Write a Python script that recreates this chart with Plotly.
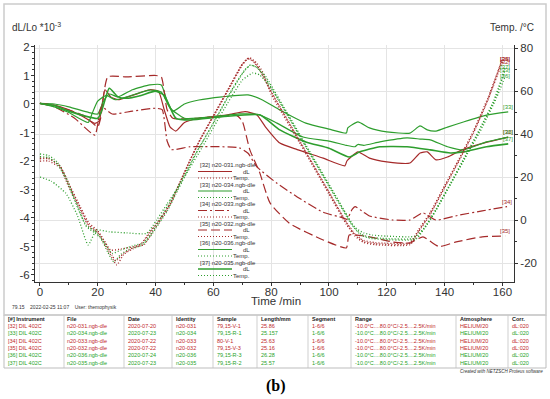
import plotly.graph_objects as go

# ---------------- data ----------------
RED = "#a52a2a"
GREEN = "#2e9e2e"
RED_T = "#c0282a"
GREEN_T = "#27a327"

# dL/Lo *10^-3 curves (time in min)
d32_t = [0,5,10,15,19,20.5,22.5,24.5,27,32,38,41,43,45,47,50,55,65,71,75,78,83,89,98,105.5,106.2,110,114,120,128,131.5,134,137,141,146,155,162]
d32_v = [0.02,-0.05,-0.2,-0.45,-0.68,-0.6,0.5,0.25,0.15,0.3,0.5,0.45,-0.2,-0.8,-0.95,-0.65,-0.5,-0.38,-0.27,-0.38,-0.8,-1.37,-1.6,-1.9,-2.17,-2.0,-1.68,-1.9,-2.03,-2.07,-1.72,-1.68,-1.96,-1.86,-1.61,-1.33,-1.16]

d33_t = [0,5,10,17,20,22,24,27,32,38,42,44,46,50,55,63,72,77,83,92,100,106,106.5,110,114,120,128,131.5,134,137,141,146.5,154.5,162]
d33_v = [0.02,0,-0.1,-0.3,-0.35,0.1,0.35,0.25,0.5,0.67,0.67,0.1,-0.25,0,0.14,0.25,0.32,0.14,-0.21,-0.67,-0.88,-1.02,-0.84,-0.63,-0.84,-0.98,-1.02,-0.77,-0.91,-0.95,-0.81,-0.63,-0.39,-0.28]

d34_t = [0,5,12,19,21.3,25,32,40,42.3,44,45.5,52,69,72,75,82,89,98,105,106.2,108,109,112,114,122,128,132.5,137,145,153,161.6]
d34_v = [0.02,-0.1,-0.5,-1.09,-0.1,-0.35,-0.25,-0.15,-0.2,-1.3,-1.6,-1.5,-1.54,-1.73,-2.2,-2.78,-3.26,-3.8,-4.0,-4.05,-3.7,-3.6,-3.8,-3.93,-4.07,-4.07,-3.82,-4.07,-3.9,-3.75,-3.6]

d35_t = [0,5,15,20,21,23.5,30,40,42,44,46,55,68,70,72.6,76,79.6,86.5,98,106,107,114,122,128,132.5,138,144,153,161]
d35_v = [0.02,-0.05,-0.4,-0.8,-0.5,0.95,0.95,1.0,0.95,-0.2,-0.5,-0.5,-0.4,-0.6,-1.6,-2.4,-3.47,-4.2,-4.77,-5.05,-4.6,-4.66,-4.84,-4.88,-4.66,-5.0,-4.84,-4.66,-4.63]

d36_t = [0,5,10,16.7,18,20,23,26,30,38,42,45,50,60,69,76,82,91,100,106,109,110,112,117.6,127,131.5,135,141,146.5,154.5,162]
d36_v = [0.02,-0.1,-0.3,-0.65,-0.35,0.1,0.3,0.15,0.25,0.49,0.42,-0.14,-0.5,-0.45,-0.35,-0.38,-0.67,-1.16,-1.3,-1.45,-1.5,-1.42,-1.45,-1.33,-1.19,-1.23,-1.26,-1.5,-1.61,-1.33,-1.16]

d37_t = [0,5,10,20,21.5,24,27,30,35,40,43,47,52,63,76,83,92,100,107,110.7,117.6,127,135,142,146.5,154.5,162]
d37_v = [0.02,-0.05,-0.25,-0.5,-0.2,0.55,0.25,0.2,0.3,0.45,0.3,-0.5,-0.56,-0.45,-0.38,-0.91,-1.33,-1.55,-1.86,-1.68,-1.5,-1.5,-1.61,-1.72,-1.68,-1.5,-1.4]

# Temperature curves (deg C)
t32_t = [0,3,7,10,14,17,20,22.5,25,26.6,29,32,35,38,41.5,45,48.4,52,55.4,60,65,70,72,74,76,80,90,100,106,109,112,116,128,131,135,140,145,150,155,160]
t32_v = [27.4,27.4,24.2,15.3,4.7,-3.3,-6,-11.6,-17.7,-20.9,-16,-13.5,-11.6,-6,0,7,17.2,27.9,37.2,48,60,72,75,73.5,69.8,59.5,36.2,12.8,-1.2,-7,-10,-11,-11,-5,3,15.5,28,41,56,73.5]

t34_t = [0,3,7,10,14,17,20,22,24.5,28,32,36,39,42,45,48.5,52,55.5,60,65,70,72.5,75,77,80,90,100,106,109,112,116,128,131,135,140,145,150,155,160]
t34_v = [28.8,28.8,25,17,6,-1.5,-5,-9,-14,-13.5,-12.5,-11.5,-5.5,0.5,7.5,17.5,28,37.5,48.5,60.5,72.5,75.5,73,69,58.5,35.5,12,-2,-7.5,-10.5,-11.5,-11.5,-5.5,2.5,15,27.5,40.5,56,75]

t35_t = [0,3,7,10,14,17,20,22.5,25,26.2,29,32,35,38,41.5,45,48.4,52,55.4,60,65,70,72,74,76,80,90,100,106,109,112,116,128,131,135,140,145,150,155,160]
t35_v = [28.5,28.5,25,16.5,5.5,-2.5,-5.5,-10.5,-16.5,-19,-15.5,-13,-11,-5.5,0.5,7.5,17.5,28,37.5,48.5,60.5,72.5,75.2,73.8,70,59.8,36.5,13,-1,-6.5,-9.5,-10.5,-10.5,-4.5,3.5,16,28.5,41.5,57,74.8]

t33_t = [0,3,6,9,12,16,19,21,23.5,25.5,28,31,35,38,41,44,47,50,54,57,62,67,71,73,75,78,82,92,102,108,111,114,118,130,133,137,142,147,152,157,161]
t33_v = [30.7,30,27,20,10,-3,-6,-8.5,-15,-19.5,-16,-13.5,-12,-8,-2,4,12,20,31,38,50,62,70,72,71,66,57,34,11,-2.5,-7,-8.5,-9,-9,-4,4.5,16.5,29,41.5,55,70]

t36_t = [0,4,9,13,16.7,19.6,24,30,36.9,40.4,44,48,52,56,60,65,70,73.7,76,79,83,93,103,109,112,115,120,130,134,138,143,148,153,158,161]
t36_v = [20,18,12.4,2,-11.6,-4.7,-5.5,-6,-6.2,0,7.5,15.5,24.5,33.5,43,54.5,65,68.4,67.5,63,55,32,9.5,-3.5,-6,-7,-7.5,-7.5,-2,7,19,31,43,57,67]

t37_t = [0,3,6,9,12,16,19,22,25,28,32,36,39,42,45,48,51,55,60,65,70,72.7,75,78,82,92,102,108,111,114,118,130,133,137,142,147,152,157,161]
t37_v = [29.5,29,26,19,9,-2.5,-5,-10,-15.5,-14,-12,-10.5,-5,1.5,8.5,16,23.5,33.5,45,57,68,72.1,71,67,58,35,12,-2,-6.5,-8,-8.5,-8.5,-3.5,5,17,29.5,42,55.5,71]

x_ticks = [0,20,40,60,80,100,120,140,160]
x_tick_labels = ["0","20","40","60","80","100","120","140","160"]
y_ticks = [-6,-5,-4,-3,-2,-1,0,1,2]
y_tick_labels = ["-6","-5","-4","-3","-2","-1","0","1","2"]
y2_ticks = [-20,0,20,40,60,80]
y2_tick_labels = ["-20","0","20","40","60","80"]

ids = ["[32]","[33]","[34]","[35]","[36]","[37]"]
files = ["n20-031.ngb-dle","n20-034.ngb-dle","n20-033.ngb-dle","n20-032.ngb-dle","n20-036.ngb-dle","n20-035.ngb-dle"]
dates = ["2020-07-20","2020-07-23","2020-07-22","2020-07-22","2020-07-24","2020-07-23"]
identities = ["n20-031","n20-034","n20-033","n20-032","n20-036","n20-035"]
samples = ["79,15-V-1","79,15-R-1","80-V-1","79,15-V-3","79,15-R-3","79,15-R-2"]
lengths = ["25.86","25.157","25.63","25.16","26.28","25.57"]
segments = ["1-6/6"]*6
ranges = ["-10.0°C....80.0°C/-2.5....2.5K/min"]*6
atmospheres = ["HELIUM/20"]*6
corrs = ["dL:020"]*6
header = ["[#] Instrument","File","Date","Identity","Sample","Length/mm","Segment","Range","Atmosphere","Corr."]

# ---------------- figure ----------------
L, R, T, B = 35, 514, 45, 282
def px(x): return (x - L) / (R - L)
def py(y): return (B - y) / (B - T)

series = [
    ("[32]", d32_t, d32_v, t32_t, t32_v, RED, "solid", 1.2),
    ("[33]", d33_t, d33_v, t33_t, t33_v, GREEN, "solid", 1.2),
    ("[34]", d34_t, d34_v, t34_t, t34_v, RED, "9px,3px,2px,3px", 1.2),
    ("[35]", d35_t, d35_v, t35_t, t35_v, RED, "9px,4px", 1.2),
    ("[36]", d36_t, d36_v, t36_t, t36_v, GREEN, "solid", 1.2),
    ("[37]", d37_t, d37_v, t37_t, t37_v, GREEN, "solid", 1.6),
]

fig = go.Figure()
for name, dt, dv, tt, tv, col, dash, w in series:
    fig.add_trace(go.Scatter(x=tt, y=tv, yaxis="y2", mode="lines",
                             line=dict(color=col, width=1.3, dash="1px,2px", shape="spline", smoothing=0.5),
                             showlegend=False, hoverinfo="skip"))
for name, dt, dv, tt, tv, col, dash, w in series:
    fig.add_trace(go.Scatter(x=dt, y=dv, mode="lines",
                             line=dict(color=col, width=w, dash=dash, shape="spline", smoothing=0.5),
                             showlegend=False, hoverinfo="skip"))

FONT = "Liberation Sans, Arial, sans-serif"
ann = []
shapes = []

# end labels
for name, dt, dv, tt, tv, col, dash, w in series:
    ann.append(dict(x=dt[-1], y=dv[-1], xref="x", yref="y", text=name, showarrow=False,
                    xanchor="center", yanchor="bottom", font=dict(size=6, color=col, family=FONT)))
    ann.append(dict(x=161, y=tv[-1], xref="x", yref="y2", text=name, showarrow=False,
                    xanchor="center", yanchor="middle", font=dict(size=6, color=col, family=FONT)))

# in-plot legend
for i, (name, dt, dv, tt, tv, col, dash, w) in enumerate(series):
    y0 = 165 + 19.5 * i
    ann.append(dict(x=px(198), y=py(y0), xref="paper", yref="paper", text=f"{name} {files[i]}",
                    showarrow=False, xanchor="left", yanchor="middle", font=dict(size=6, color="#333", family=FONT)))
    ann.append(dict(x=px(252), y=py(y0 + 6.5), xref="paper", yref="paper", text="dL",
                    showarrow=False, xanchor="right", yanchor="middle", font=dict(size=6, color="#333", family=FONT)))
    ann.append(dict(x=px(252), y=py(y0 + 13), xref="paper", yref="paper", text="Temp.",
                    showarrow=False, xanchor="right", yanchor="middle", font=dict(size=6, color="#333", family=FONT)))
    shapes.append(dict(type="line", xref="paper", yref="paper", x0=px(198), x1=px(232),
                       y0=py(y0 + 6.5), y1=py(y0 + 6.5), line=dict(color=col, width=w, dash=dash)))
    shapes.append(dict(type="line", xref="paper", yref="paper", x0=px(198), x1=px(232),
                       y0=py(y0 + 13), y1=py(y0 + 13), line=dict(color=col, width=1.2, dash="1px,2px")))

# titles
ann.append(dict(x=px(10), y=py(27), xref="paper", yref="paper", text="dL/Lo *10<sup>-3</sup>", showarrow=False,
                xanchor="left", yanchor="middle", font=dict(size=10, color="#333", family=FONT)))
ann.append(dict(x=px(536), y=py(27), xref="paper", yref="paper", text="Temp. /°C", showarrow=False,
                xanchor="right", yanchor="middle", font=dict(size=10, color="#333", family=FONT)))
ann.append(dict(x=px(276), y=py(301), xref="paper", yref="paper", text="Time /min", showarrow=False,
                xanchor="center", yanchor="middle", font=dict(size=11.5, color="#333", family=FONT)))
ann.append(dict(x=px(10), y=py(307), xref="paper", yref="paper",
                text="79.15&nbsp;&nbsp;&nbsp;&nbsp;2022-02-25 11:07&nbsp;&nbsp;&nbsp;&nbsp;User: themophysik", showarrow=False,
                xanchor="left", yanchor="middle", font=dict(size=5, color="#333", family=FONT)))

# table
col_x = [6, 65, 126, 174, 215, 259, 310, 353, 458, 510]
sep_x = [64, 124, 172, 213, 257, 308, 351, 456, 508]
row_y = [319, 325.5, 333, 340.5, 348, 355.5, 363]
for j, h in enumerate(header):
    ann.append(dict(x=px(col_x[j]), y=py(row_y[0]), xref="paper", yref="paper", text=f"<b>{h}</b>",
                    showarrow=False, xanchor="left", yanchor="middle", font=dict(size=5.5, color="#222", family=FONT)))
for i in range(6):
    c = RED_T if ids[i] in ("[32]", "[34]", "[35]") else GREEN_T
    vals = [f"{ids[i]} DIL 402C", files[i], dates[i], identities[i], samples[i], lengths[i],
            segments[i], ranges[i], atmospheres[i], corrs[i]]
    for j, v in enumerate(vals):
        ann.append(dict(x=px(col_x[j]), y=py(row_y[i + 1]), xref="paper", yref="paper", text=v,
                        showarrow=False, xanchor="left", yanchor="middle", font=dict(size=5.5, color=c, family=FONT)))
for sx in sep_x:
    shapes.append(dict(type="line", xref="paper", yref="paper", x0=px(sx), x1=px(sx), y0=py(315), y1=py(368),
                       line=dict(color="#cfcfcf", width=1)))
shapes.append(dict(type="rect", xref="paper", yref="paper", x0=px(4), x1=px(546), y0=py(315), y1=py(368),
                   line=dict(color="#bdbdbd", width=1)))
shapes.append(dict(type="rect", xref="paper", yref="paper", x0=px(4), x1=px(546), y0=py(4), y1=py(315),
                   line=dict(color="#cccccc", width=1.5)))
ann.append(dict(x=px(545), y=py(371.5), xref="paper", yref="paper", text="<i>Created with NETZSCH Proteus software</i>",
                showarrow=False, xanchor="right", yanchor="middle", font=dict(size=4.5, color="#333", family=FONT)))
ann.append(dict(x=px(276), y=py(386), xref="paper", yref="paper", text="<b>(b)</b>", showarrow=False,
                xanchor="center", yanchor="middle", font=dict(size=16, color="#000", family="Liberation Serif, Times New Roman, serif")))

axis_common = dict(showline=True, linecolor="#333", linewidth=1, ticks="outside", ticklen=3, tickcolor="#333",
                   tickfont=dict(size=11.5, color="#333", family=FONT), zeroline=False, tickmode="array")

fig.update_layout(
    width=550, height=399,
    margin=dict(l=L, r=550 - R, t=T, b=399 - B),
    paper_bgcolor="white", plot_bgcolor="white",
    showlegend=False,
    xaxis=dict(range=[-1.7, 164], tickvals=x_ticks, ticktext=x_tick_labels, showgrid=True, gridcolor="#e4e4e4",
               ticklabelstandoff=-4,
               minor=dict(ticks="outside", dtick=10, tick0=0, ticklen=2, tickcolor="#333", showgrid=False),
               **axis_common),
    yaxis=dict(range=[-6.246, 2.07], tickvals=y_ticks, ticktext=y_tick_labels, showgrid=False,
               ticklabelstandoff=-1,
               minor=dict(ticks="outside", dtick=0.2, tick0=0, ticklen=2, tickcolor="#333", showgrid=False),
               **axis_common),
    yaxis2=dict(range=[-28.84, 81.4], tickvals=y2_ticks, ticktext=y2_tick_labels, overlaying="y", side="right",
                showgrid=True, gridcolor="#e4e4e4",
                minor=dict(ticks="outside", dtick=10, tick0=0, ticklen=2, tickcolor="#333", showgrid=False),
                **axis_common),
    annotations=ann,
    shapes=shapes,
)

fig.write_html("out.html", config={"displayModeBar": False},
               post_script="document.body.style.margin='0';document.body.style.overflow='hidden';")
